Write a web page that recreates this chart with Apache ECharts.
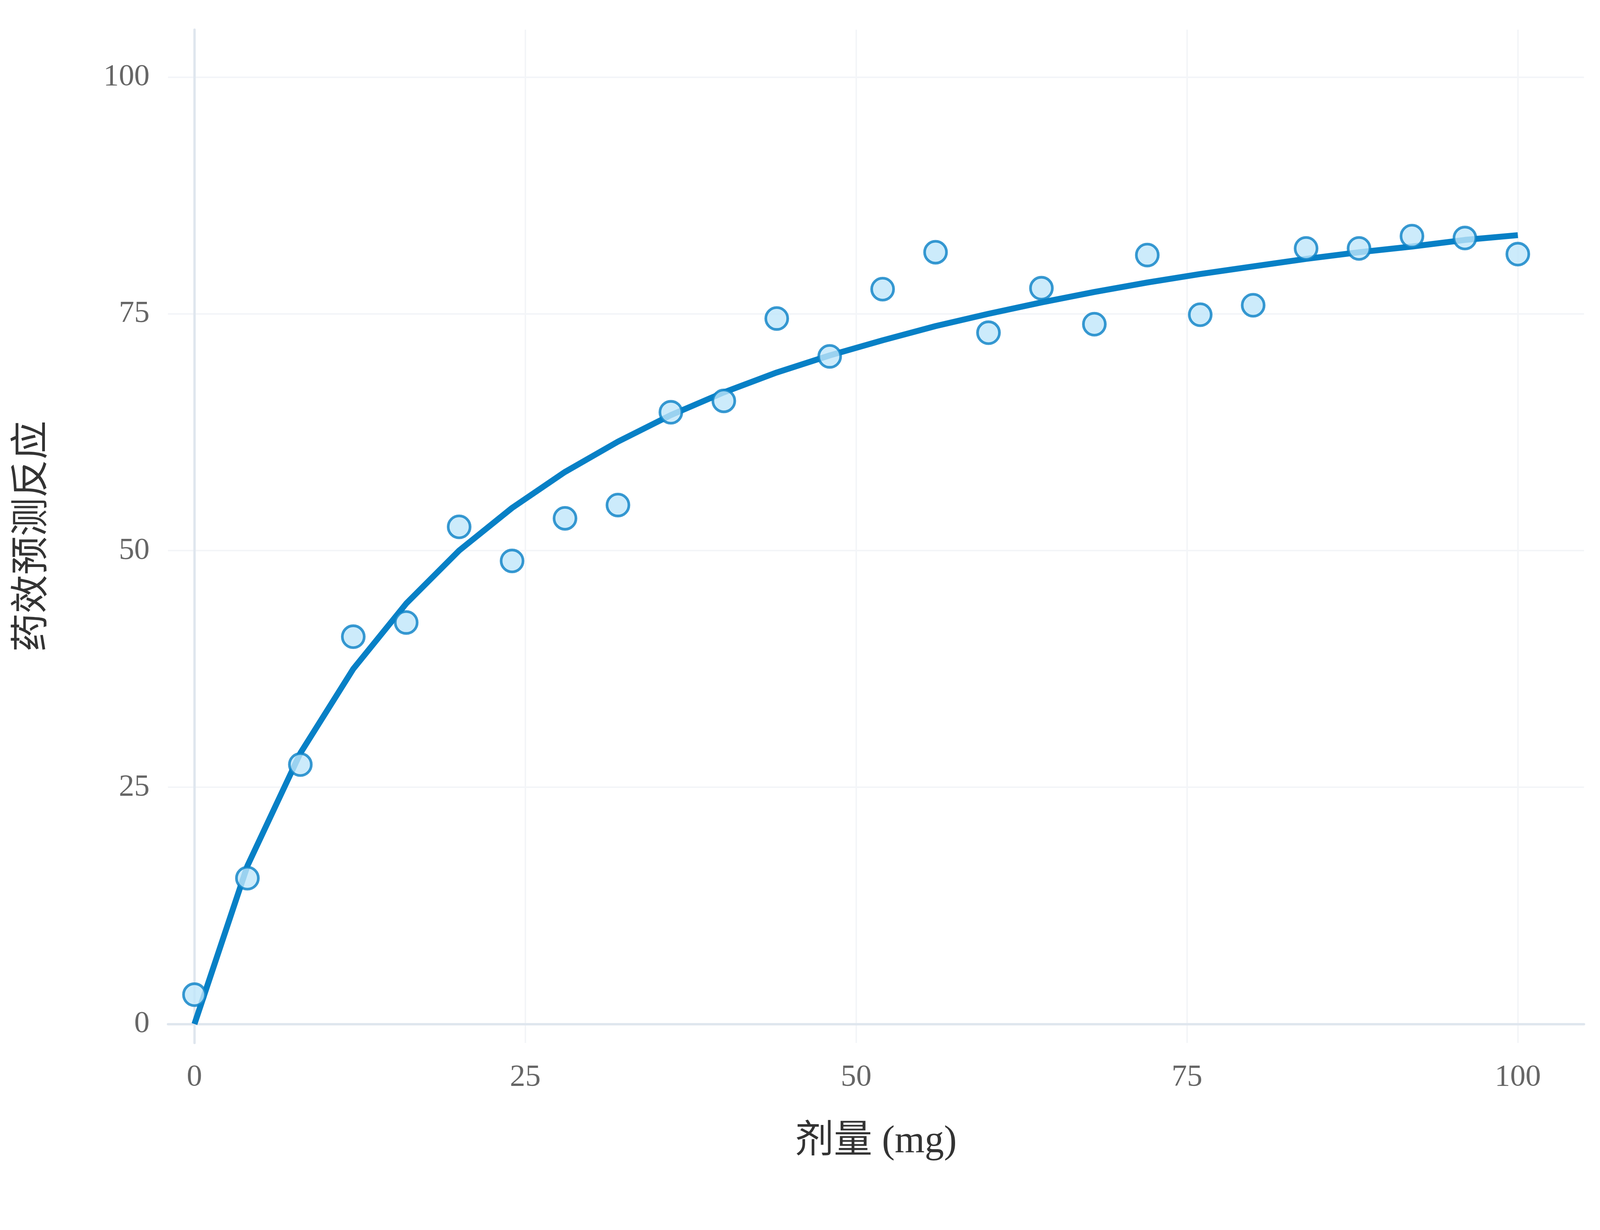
<!DOCTYPE html>
<html>
<head>
<meta charset="utf-8">
<script src="https://cdn.jsdelivr.net/npm/echarts@6/dist/echarts.min.js"></script>
<style>html,body{margin:0;padding:0;background:#fff;overflow:hidden}#chart{width:100vw;height:100vh}</style>
</head>
<body>
<div id="chart"></div>
<script>
// 剂量 (mg)
const doses = [0, 4, 8, 12, 16, 20, 24, 28, 32, 36, 40, 44, 48, 52, 56, 60, 64, 68, 72, 76, 80, 84, 88, 92, 96, 100]
// 观测值（散点）
const observed = [3.1, 15.4, 27.4, 40.9, 42.4, 52.5, 48.9, 53.4, 54.8, 64.6, 65.8, 74.5, 70.5, 77.6, 81.5, 73.0, 77.7, 73.9, 81.2, 74.9, 75.9, 81.9, 81.9, 83.2, 83.0, 81.3]
// 拟合曲线
const fitted = [0, 16.7, 28.6, 37.5, 44.4, 50, 54.5, 58.3, 61.5, 64.3, 66.7, 68.8, 70.6, 72.2, 73.7, 75, 76.2, 77.3, 78.3, 79.2, 80, 80.8, 81.5, 82.1, 82.8, 83.3]
const tickValues = [0, 25, 50, 75, 100]

const FONT = '"Liberation Serif", "Noto Sans CJK SC", serif'
const el = document.getElementById('chart')
const chart = echarts.init(el)
// 按 5400x3150 设计，按实际窗口缩放
const W = el.clientWidth
const H = el.clientHeight
const k = Math.min(W / 5400, H / 3150)

function axisBase () {
  return {
    type: 'value',
    min: -2,
    max: 105,
    axisLine: { show: true, lineStyle: { color: '#dfe6ee', width: 8 * k } },
    axisTick: { show: false, customValues: tickValues },
    axisLabel: { customValues: tickValues, color: '#666', fontSize: 104 * k, fontFamily: FONT },
    splitLine: { show: true, lineStyle: { color: '#f3f5f8', width: 5 * k } },
    nameLocation: 'middle',
    nameTextStyle: { color: '#333', fontSize: 130 * k, fontFamily: FONT }
  }
}

let xAxis = axisBase()
xAxis.name = '剂量 (mg)'
xAxis.nameGap = 270 * k
xAxis.axisLabel.margin = 64 * k

let yAxis = axisBase()
yAxis.name = '药效预测反应'
yAxis.nameGap = 390 * k
yAxis.axisLabel.margin = 62 * k

chart.setOption({
  animation: false,
  grid: {
    left: (567 / 5400 * 100) + '%',
    right: (54 / 5400 * 100) + '%',
    top: (76 / 3150 * 100) + '%',
    bottom: (479 / 3150 * 100) + '%'
  },
  xAxis: xAxis,
  yAxis: yAxis,
  series: [
    {
      type: 'line',
      data: doses.map((d, i) => [d, fitted[i]]),
      showSymbol: false,
      lineStyle: { color: '#0780c6', width: 20 * k },
      z: 2
    },
    {
      type: 'scatter',
      data: doses.map((d, i) => [d, observed[i]]),
      symbolSize: 74 * k,
      itemStyle: { color: '#bfe6fa', borderColor: '#0780c6', borderWidth: 9 * k },
      z: 3
    }
  ]
})
</script>
</body>
</html>
